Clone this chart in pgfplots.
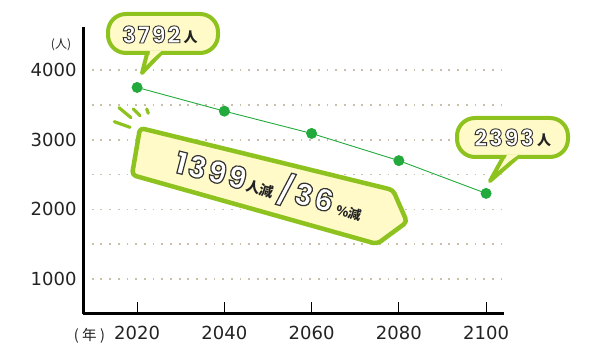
\documentclass[border=0pt]{standalone}
\usepackage{pgfplots}
\pgfplotsset{compat=1.18}
\usepackage{fontspec}
\setmainfont{DejaVu Sans}
\newfontfamily\jp{Noto Sans CJK JP}
\newfontfamily\popo{Poppins Bold}[FakeBold=4, LetterSpace=7]
\definecolor{borderc}{RGB}{141,194,31}
\definecolor{fillc}{RGB}{255,250,200}
\definecolor{linec}{RGB}{34,170,60}
\definecolor{gridc}{RGB}{200,192,170}
\definecolor{textc}{RGB}{35,35,35}
\newcommand\outl[2]{{\fontsize{#1}{#1}\popo\color{white}\special{pdf:literal direct 0.2 0.2 0.2 RG}#2}}
\begin{document}
\begin{tikzpicture}
\path[use as bounding box] (0pt,0pt) rectangle (600pt,-355pt);
\begin{axis}[
  at={(83pt,-314pt)}, anchor=south west,
  scale only axis, width=421pt, height=287pt,
  xmin=2007.6, xmax=2104.1, ymin=500, ymax=4617,
  axis x line=bottom, axis y line=left,
  axis line style={line width=3pt, -, black},
  xtick={2020,2040,2060,2080,2100},
  xticklabels={2020,2040,2060,2080,2100},
  ytick={1000,1500,2000,2500,3000,3500,4000},
  yticklabels={1000,,2000,,3000,,4000},
  tick align=inside,
  major tick length=12pt,
  xtick style={black, line width=1pt},
  ytick style={draw=none},
  ymajorgrids,
  major grid style={gridc, line width=1.8pt, dash pattern=on 1.8pt off 6.9pt},
  ticklabel style={font=\fontsize{18}{18}\selectfont, text=textc},
  xticklabel style={yshift=-9pt},
  yticklabel style={xshift=-3pt},
  /pgf/number format/assume math mode=true,
  clip=false,
]
\addplot[linec, line width=0.9pt, mark=*, mark size=5pt, mark options={fill=linec, draw=none}]
  coordinates {(2020,3750) (2040,3410) (2060,3090) (2080,2700) (2100,2230)};
\end{axis}
\begin{scope}[x=1pt,y=1pt]
% axis unit labels
\node[font=\jp\fontsize{12}{12}\selectfont, text=textc] at (61,-45) {(人)};
\node[font=\jp\fontsize{14.5}{14.5}\selectfont, text=textc] at (89.5,-336) {(\hspace{3.5pt}年\hspace{3.5pt})};
% burst
\draw[borderc, line width=3.2pt, line cap=round]
  (114.3,-121.7)--(130,-127.3) (119,-107.7)--(131,-117.7)
  (133.3,-109)--(140,-115.7) (146.7,-109)--(148.3,-113.3);
% banner
\draw[draw=borderc, fill=fillc, line width=4.5pt, line join=round, rounded corners=4pt]
  (140,-128) -- (393,-190) -- (407,-222) -- (377,-244) -- (132,-175) -- cycle;
\node[rotate=-14.5, anchor=base west, inner sep=0pt] at (173,-172)
  {\outl{30}{1399}\hspace{2pt}%
   {\jp\bfseries\fontsize{14}{14}\selectfont\color{textc}人減}\hspace{4pt}%
   \outl{30}{/}\hspace{3pt}%
   \outl{30}{36}\hspace{5pt}%
   {\jp\bfseries\fontsize{13}{13}\selectfont\color{textc}\%減}};
% callout 1
\draw[draw=borderc, fill=fillc, line width=4pt, line join=round] (148,-50) -- (142,-73) -- (164,-50) -- cycle;
\draw[draw=borderc, fill=fillc, line width=4pt, rounded corners=18pt] (108,-14) rectangle (218,-53);
\fill[fillc] (150,-51) -- (161.5,-51) -- (148.5,-62) -- cycle;
\node[anchor=base west, inner sep=0pt] at (122,-43)
  {\outl{23}{3792}\hspace{3pt}%
   {\jp\bfseries\fontsize{14}{14}\selectfont\color{textc}人}};
% callout 2
\draw[draw=borderc, fill=fillc, line width=4pt, line join=round] (505,-154) -- (490,-181) -- (521,-154) -- cycle;
\draw[draw=borderc, fill=fillc, line width=4pt, rounded corners=18pt] (457,-118) rectangle (568,-157);
\fill[fillc] (507,-155) -- (518,-155) -- (501,-167) -- cycle;
\node[anchor=base west, inner sep=0pt] at (474,-146)
  {\outl{23}{2393}\hspace{3pt}%
   {\jp\bfseries\fontsize{14}{14}\selectfont\color{textc}人}};
\end{scope}
\end{tikzpicture}
\end{document}
